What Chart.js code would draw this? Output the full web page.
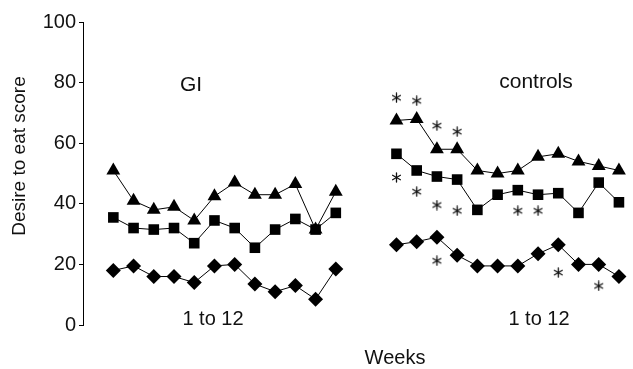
<!DOCTYPE html>
<html>
<head>
<meta charset="utf-8">
<script src="https://cdn.jsdelivr.net/npm/chart.js@4/dist/chart.umd.min.js"></script>
<style>
  html, body { margin: 0; padding: 0; background: #fff; }
  #wrap { width: 633px; height: 369px; }
</style>
</head>
<body>
<div id="wrap"><canvas id="grafico" width="633" height="369"></canvas></div>
<script>
// semanas 1 a 12 de cada grupo
const weeks = [1, 2, 3, 4, 5, 6, 7, 8, 9, 10, 11, 12];
const yTicks = [0, 20, 40, 60, 80, 100];

// grupo GI
const giTriangles = [51, 41, 38, 39, 34.5, 42.5, 47, 43, 43, 46.5, 31.5, 44];
const giSquares   = [35.5, 32, 31.5, 32, 27, 34.5, 32, 25.5, 31.5, 35, 31.5, 37];
const giDiamonds  = [18, 19.5, 16, 16, 14, 19.5, 20, 13.5, 11, 13, 8.5, 18.5];

// grupo controls
const ctrlTriangles = [67.5, 68, 58, 58, 51, 50, 51, 55.5, 56.5, 54, 52.5, 51];
const ctrlSquares   = [56.5, 51, 49, 48, 38, 43, 44.5, 43, 43.5, 37, 47, 40.5];
const ctrlDiamonds  = [26.5, 27.5, 29, 23, 19.5, 19.5, 19.5, 23.5, 26.5, 20, 20, 16];

// asteriscos (semana do grupo controls, valor)
const starWeeks  = [1, 2, 3, 4, 1, 2, 3, 4, 7, 8, 3, 9, 11];
const starValues = [75, 74, 65.8, 63.8, 48.7, 44, 39.6, 37.7, 37.7, 37.7, 21.2, 17.3, 12.9];

const CTRL_START = 14; // posição no eixo x da semana 1 dos controls
const FONT = '"Liberation Sans", Arial, Helvetica, sans-serif';

// desenha o asterisco usado como pointStyle
function makeStar() {
  const c = document.createElement('canvas');
  c.width = 11; c.height = 11;
  const g = c.getContext('2d');
  g.strokeStyle = '#111';
  g.lineWidth = 1.3;
  g.lineCap = 'round';
  for (let a = 0; a < 3; a++) {
    const ang = Math.PI / 2 + a * Math.PI / 3;
    g.beginPath();
    g.moveTo(5.5 + Math.cos(ang) * 4.5, 5.5 - Math.sin(ang) * 4.5);
    g.lineTo(5.5 - Math.cos(ang) * 4.5, 5.5 + Math.sin(ang) * 4.5);
    g.stroke();
  }
  return c;
}

function serie(values, start, style, radius) {
  return {
    data: values.map((v, i) => ({ x: start + weeks[i] - 1, y: v })),
    pointStyle: style,
    pointRadius: radius,
    backgroundColor: '#000',
    borderColor: '#000',
    pointBorderWidth: 0,
    borderWidth: 1,
    showLine: true,
    clip: false
  };
}

// textos soltos da figura (em pixels)
const anotacoes = [
  { text: 'GI', x: 191, y: 85, size: 21 },
  { text: 'controls', x: 536, y: 82, size: 21 },
  { text: '1 to 12', x: 213, y: 319, size: 20 },
  { text: '1 to 12', x: 539, y: 319, size: 20 },
  { text: 'Weeks', x: 395, y: 358, size: 20 },
  { text: 'Desire to eat score', x: 20, y: 156, size: 19, rot: -Math.PI / 2 }
];

const textosPlugin = {
  id: 'textos',
  afterDraw(chart) {
    const ctx = chart.ctx;
    ctx.save();
    ctx.fillStyle = '#111';
    ctx.textAlign = 'center';
    ctx.textBaseline = 'middle';
    anotacoes.forEach(a => {
      ctx.font = a.size + 'px ' + FONT;
      ctx.save();
      ctx.translate(a.x, a.y);
      if (a.rot) ctx.rotate(a.rot);
      ctx.fillText(a.text, 0, 0);
      ctx.restore();
    });
    ctx.restore();
  }
};

const star = makeStar();

new Chart(document.getElementById('grafico'), {
  type: 'scatter',
  data: {
    datasets: [
      serie(giTriangles, 0, 'triangle', 8),
      serie(giSquares, 0, 'rect', 7.5),
      serie(giDiamonds, 0, 'rectRot', 7.5),
      serie(ctrlTriangles, CTRL_START, 'triangle', 8),
      serie(ctrlSquares, CTRL_START, 'rect', 7.5),
      serie(ctrlDiamonds, CTRL_START, 'rectRot', 7.5),
      {
        data: starWeeks.map((w, i) => ({ x: CTRL_START + w - 1, y: starValues[i] })),
        pointStyle: star,
        pointRadius: 5,
        showLine: false,
        clip: false
      }
    ]
  },
  options: {
    responsive: false,
    animation: false,
    layout: { padding: { top: 22, bottom: 44, left: 0, right: 0 } },
    plugins: { legend: { display: false }, tooltip: { enabled: false } },
    scales: {
      x: { type: 'linear', min: -1.5, max: 25.3, display: false },
      y: {
        min: 0,
        max: 100,
        afterBuildTicks: scale => { scale.ticks = yTicks.map(v => ({ value: v })); },
        afterFit: scale => { scale.width = 83; },
        ticks: { color: '#111', padding: 3, font: { family: FONT, size: 20 } },
        grid: { drawOnChartArea: false, tickLength: 4, color: '#000' },
        border: { color: '#000', width: 1 }
      }
    }
  },
  plugins: [textosPlugin]
});
</script>
</body>
</html>
